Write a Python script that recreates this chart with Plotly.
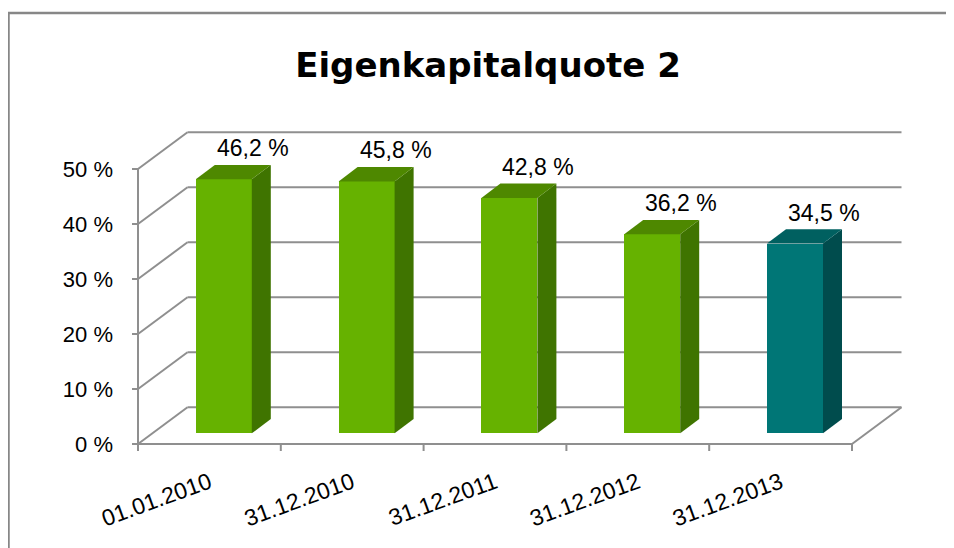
import plotly.graph_objects as go

# ---------------- data ----------------
categories = ["01.01.2010", "31.12.2010", "31.12.2011", "31.12.2012", "31.12.2013"]
values = [46.2, 45.8, 42.8, 36.2, 34.5]
value_labels = ["46,2 %", "45,8 %", "42,8 %", "36,2 %", "34,5 %"]
y_ticks = [0, 10, 20, 30, 40, 50]
y_tick_labels = ["0 %", "10 %", "20 %", "30 %", "40 %", "50 %"]
title_text = "Eigenkapitalquote 2"

# ---------------- geometry / style (page pixel coordinates) ----------------
PAGE_W, PAGE_H = 954, 548
OFF = 8                              # default body margin of the html page
W, H = PAGE_W - OFF, PAGE_H - OFF

X0_PAGE, Y0_PAGE = 138, 444          # front-left floor corner
PAD_L, PAD_B = 10, 12
RIGHT_PAGE, TOP_PAGE = 908, 124
ML = X0_PAGE - PAD_L - OFF
MR = PAGE_W - RIGHT_PAGE
MT = TOP_PAGE - OFF
MB = PAGE_H - (Y0_PAGE + PAD_B)
PLOT_W = W - ML - MR
PLOT_H = H - MT - MB

PX_X = 142.8          # px per category
PX_Y = 5.5            # px per percent
X_RANGE = [-PAD_L / PX_X, (RIGHT_PAGE - X0_PAGE) / PX_X]
Y_RANGE = [-PAD_B / PX_Y, (Y0_PAGE - TOP_PAGE) / PX_Y]

BX, BY = 49.5 / PX_X, 36.7 / PX_Y      # back wall offset
FX, FY = 14.4 / PX_X, 10.7 / PX_Y      # bar front offset (depth position)
DX, DY = 19.0 / PX_X, 14.3 / PX_Y      # bar depth
BW = 56.0 / PX_X                        # bar width
LBL_DX, LBL_DY = 29.0 / PX_X, 31.0 / PX_Y
TICK_X = 7.0 / PX_Y
TICK_Y = 6.0 / PX_X

n = len(categories)
GRID = "#8f8f8f"
FONT = "Liberation Sans"

green = ("#66b200", "#3f7400", "#4e8800")
teal = ("#007676", "#004c4d", "#006060")
bar_styles = [green] * (n - 1) + [teal]

fig = go.Figure()


def seg(x0, y0, x1, y1):
    fig.add_shape(type="line", xref="x", yref="y", x0=x0, y0=y0, x1=x1, y1=y1,
                  line=dict(color=GRID, width=2), layer="below")


# back wall gridlines and side wall diagonals
for v in y_ticks:
    seg(BX, v + BY, n + BX, v + BY)
    seg(0, v, BX, v + BY)
    seg(0, v, -TICK_Y, v)                 # y tick mark
# floor right edge, front axis lines, x tick marks
seg(n, 0, n + BX, BY)
seg(0, 0, 0, y_ticks[-1])
seg(0, 0, n, 0)
for k in range(n + 1):
    seg(k, 0, k, -TICK_X)

# bar front faces
xc = [i + 0.5 + FX for i in range(n)]
fig.add_trace(go.Bar(x=xc, y=values, base=FY, width=BW,
                     marker=dict(color=[s[0] for s in bar_styles], line=dict(width=0)),
                     showlegend=False, hoverinfo="skip"))

# side and top faces, value labels
for i, v in enumerate(values):
    xl = xc[i] - BW / 2
    xr = xc[i] + BW / 2
    b = FY
    t = FY + v
    fig.add_trace(go.Scatter(x=[xr, xr, xr + DX, xr + DX, xr], y=[b, t, t + DY, b + DY, b],
                             mode="lines", fill="toself", fillcolor=bar_styles[i][1],
                             line=dict(width=0, color=bar_styles[i][1]),
                             hoverinfo="skip", showlegend=False))
    fig.add_trace(go.Scatter(x=[xl, xr, xr + DX, xl + DX, xl], y=[t, t, t + DY, t + DY, t],
                             mode="lines", fill="toself", fillcolor=bar_styles[i][2],
                             line=dict(width=0, color=bar_styles[i][2]),
                             hoverinfo="skip", showlegend=False))
    fig.add_annotation(x=xc[i] + LBL_DX, y=FY + v + LBL_DY, text=value_labels[i],
                       showarrow=False, xanchor="center", yanchor="middle",
                       font=dict(family=FONT, size=23, color="#000000"))


# frame (partial border), page px -> paper
def paper_x(px):
    return (px - OFF - ML) / PLOT_W


def paper_y(py):
    return (H - MB - (py - OFF)) / PLOT_H


frame = dict(color="#878787", width=2.5)
fig.add_shape(type="line", xref="paper", yref="paper",
              x0=paper_x(OFF + 0.5), x1=paper_x(OFF + 0.5),
              y0=paper_y(13), y1=paper_y(PAGE_H + 5), line=frame)
fig.add_shape(type="line", xref="paper", yref="paper",
              x0=paper_x(OFF), x1=paper_x(PAGE_W + 5),
              y0=paper_y(13), y1=paper_y(13), line=frame)

fig.update_layout(
    width=W, height=H,
    margin=dict(l=ML, r=MR, t=MT, b=MB),
    paper_bgcolor="white", plot_bgcolor="white",
    title=dict(text="<b>" + title_text + "</b>", xref="container", yref="container",
               x=(488 - OFF) / W, y=1 - (65 - OFF) / H, xanchor="center", yanchor="middle",
               font=dict(family="DejaVu Sans", size=34, color="#000000")),
    xaxis=dict(range=X_RANGE, tickvals=[i + 0.5 for i in range(n)], ticktext=categories,
               ticks="", tickangle=-20, showgrid=False, zeroline=False, showline=False,
               tickfont=dict(family=FONT, size=23, color="#000000"), ticklabelstandoff=8),
    yaxis=dict(range=Y_RANGE, tickvals=y_ticks, ticktext=y_tick_labels,
               ticks="", showgrid=False, zeroline=False, showline=False,
               tickfont=dict(family=FONT, size=22, color="#000000"), ticklabelstandoff=14),
    bargap=0,
)

fig.write_html("out.html")
